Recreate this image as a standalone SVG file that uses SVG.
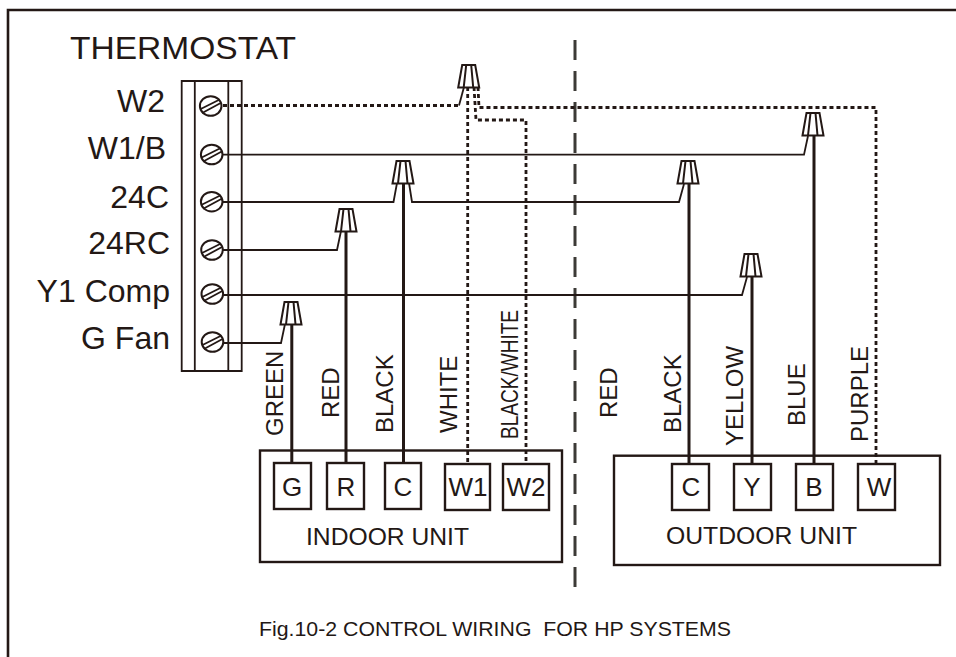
<svg xmlns="http://www.w3.org/2000/svg" width="956" height="657" viewBox="0 0 956 657">
<style>
text{font-family:"Liberation Sans",Arial,sans-serif;fill:#231815}
.lab{font-size:32px;text-anchor:end}
.rot{font-size:24px}
.term{font-size:26px;text-anchor:middle}
.box{fill:#fff;stroke:#231815;stroke-width:2.4}
.thin{fill:none;stroke:#231815;stroke-width:1.8}
.thick{fill:none;stroke:#231815;stroke-width:3}
.dot{fill:none;stroke:#231815;stroke-width:2.8;stroke-dasharray:4 3}
.frame{fill:none;stroke:#231815;stroke-width:2.6}
.nut{fill:#fff;stroke:#231815;stroke-width:2}
</style>
<defs>
<g id="nut"><path class="nut" d="M-6.500 0H6.500L10.500 22.500H-10.500Z"/><path class="nut" d="M-2.500 0L-5 22.500M2.500 0L4.500 22.500" fill="none"/></g>
<g id="screw"><ellipse cx="0" cy="0" rx="10.800" ry="9.800" fill="#fff" stroke="#231815" stroke-width="2"/><path class="thin" d="M-10 3L9 -6.500M-8.500 7L10 -3"/></g>
</defs>
<path class="frame" d="M8 657V10H956"/>
<path d="M575 40V589" fill="none" stroke="#3c3a36" stroke-width="3" stroke-dasharray="20 11"/>
<g id="thermostat">
<text x="70" y="59" font-size="32" textLength="226" lengthAdjust="spacingAndGlyphs">THERMOSTAT</text>
<path class="thin" d="M181.700 81H241.700V371H181.700ZM194.800 81V371M228.300 81V371"/>
<use href="#screw" x="210.700" y="106"/>
<use href="#screw" x="211.700" y="154.500"/>
<use href="#screw" x="211.700" y="201.700"/>
<use href="#screw" x="212" y="250"/>
<use href="#screw" x="212.300" y="294"/>
<use href="#screw" x="212.500" y="342"/>
<text class="lab" x="165" y="112">W2</text>
<text class="lab" x="166" y="159">W1/B</text>
<text class="lab" x="169" y="208">24C</text>
<text class="lab" x="170" y="254">24RC</text>
<text class="lab" x="170" y="302">Y1 Comp</text>
<text class="lab" x="170" y="349">G Fan</text>
</g>
<g id="connectors">
<path class="thin" d="M223 154.700H804L808 136"/>
<path class="thin" d="M223 202H393.500L397 183M409 183L412 202H679L684 184"/>
<path class="thin" d="M223 250H337L341 231"/>
<path class="thin" d="M223 295H742L747 277"/>
<path class="thin" d="M223 343H281L285 324"/>
<path class="dot" d="M223 105.500H459"/>
<path class="thin" d="M459 105.500L464 87"/>
<path class="dot" d="M467.700 87V463"/>
<path class="dot" d="M474 87L476 120H526V463"/>
<path class="dot" d="M478 87L479 107.500H876V463"/>
<path class="thick" d="M291.800 324V463M346 231V463M403.500 183V463M689 184V464M752 277V464M814 136V464"/>
</g>
<g id="nut-w"><use href="#nut" x="468.700" y="65"/></g>
<g id="nut-c-left"><use href="#nut" x="403" y="161"/></g>
<g id="nut-r"><use href="#nut" x="346" y="209"/></g>
<g id="nut-g"><use href="#nut" x="291" y="302"/></g>
<g id="nut-b"><use href="#nut" x="813" y="113"/></g>
<g id="nut-c-right"><use href="#nut" x="688" y="161"/></g>
<g id="nut-y"><use href="#nut" x="751" y="254"/></g>
<g id="wire-labels">
<text class="rot" transform="translate(283,436) rotate(-90)">GREEN</text>
<text class="rot" transform="translate(339,418) rotate(-90)">RED</text>
<text class="rot" transform="translate(393,433) rotate(-90)">BLACK</text>
<text class="rot" transform="translate(457,433) rotate(-90)">WHITE</text>
<text class="rot" transform="translate(518,439) rotate(-90)" textLength="129" lengthAdjust="spacingAndGlyphs">BLACK/WHITE</text>
<text class="rot" transform="translate(617,418) rotate(-90)">RED</text>
<text class="rot" transform="translate(681,433) rotate(-90)">BLACK</text>
<text class="rot" transform="translate(743,446) rotate(-90)">YELLOW</text>
<text class="rot" transform="translate(805,426) rotate(-90)">BLUE</text>
<text class="rot" transform="translate(868,442) rotate(-90)">PURPLE</text>
</g>
<g id="indoor-unit">
<rect x="260" y="450.500" width="302" height="111.500" fill="none" stroke="#231815" stroke-width="2.400"/>
<text x="306" y="545" font-size="24.500" textLength="163" lengthAdjust="spacingAndGlyphs">INDOOR UNIT</text>
<g id="t-g"><rect class="box" x="274" y="463" width="37" height="46"/><text class="term" x="292" y="496">G</text></g>
<g id="t-r"><rect class="box" x="327" y="463" width="37" height="46"/><text class="term" x="346" y="496">R</text></g>
<g id="t-c"><rect class="box" x="385" y="463" width="36" height="46"/><text class="term" x="403" y="496">C</text></g>
<g id="t-w1"><rect class="box" x="445" y="464" width="45" height="46"/><text class="term" x="468" y="496">W1</text></g>
<g id="t-w2"><rect class="box" x="503" y="464" width="46" height="46"/><text class="term" x="526" y="496">W2</text></g>
</g>
<g id="outdoor-unit">
<rect x="614" y="455.700" width="326" height="109.300" fill="none" stroke="#231815" stroke-width="2.400"/>
<text x="666" y="544" font-size="24.500" textLength="191" lengthAdjust="spacingAndGlyphs">OUTDOOR UNIT</text>
<g id="o-c"><rect class="box" x="672" y="464" width="37" height="46"/><text class="term" x="691" y="496">C</text></g>
<g id="o-y"><rect class="box" x="734" y="464" width="37" height="46"/><text class="term" x="752" y="496">Y</text></g>
<g id="o-b"><rect class="box" x="796" y="464" width="37" height="46"/><text class="term" x="814" y="496">B</text></g>
<g id="o-w"><rect class="box" x="858" y="464" width="37" height="46"/><text class="term" x="879" y="496">W</text></g>
</g>
<text x="259" y="636" font-size="21" textLength="472" lengthAdjust="spacingAndGlyphs" xml:space="preserve">Fig.10-2 CONTROL WIRING  FOR HP SYSTEMS</text>
</svg>
